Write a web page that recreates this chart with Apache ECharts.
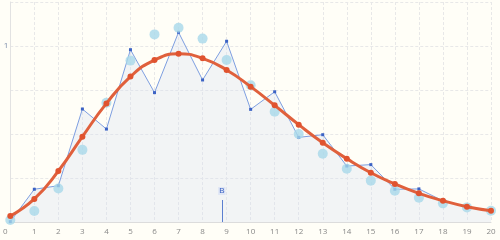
<!DOCTYPE html>
<html><head><meta charset="utf-8">
<script src="https://cdn.jsdelivr.net/npm/echarts@6/dist/echarts.min.js"></script>
<style>html,body{margin:0;padding:0;background:#fffef7;}#c{width:500px;height:240px;}</style>
</head><body><div id="c"></div>
<script>
const xValues = [0,1,2,3,4,5,6,7,8,9,10,11,12,13,14,15,16,17,18,19,20];
const observed = [0.002,0.186,0.206,0.642,0.528,0.979,0.735,1.078,0.807,1.027,0.640,0.740,0.481,0.496,0.318,0.326,0.186,0.188,0.12,0.088,0.064];
const expected = [0.011,0.063,0.19,0.41,0.678,0.917,1.066,1.104,1.042,0.92,0.777,0.627,0.5,0.388,0.303,0.235,0.178,0.138,0.106,0.083,0.064];
const fitted = [0.034,0.131,0.29,0.485,0.674,0.826,0.92,0.956,0.93,0.864,0.769,0.663,0.553,0.45,0.36,0.28,0.216,0.163,0.121,0.087,0.064];
const markX = 8.8;
const markTop = 0.125;
const markLabel = 'B';

const chart = echarts.init(document.getElementById('c'), null, {renderer:'canvas'});
const pair = arr => xValues.map((x,i)=>[x,arr[i]]);
chart.setOption({
  backgroundColor:'#fffef7',
  animation:false,
  grid:{left:8,right:9,top:2,bottom:18,containLabel:false},
  xAxis:{type:'value',min:0,max:20,interval:1,
    axisLine:{lineStyle:{color:'#dcdcdc'}},axisTick:{show:false},
    axisLabel:{fontSize:8,color:'#888',margin:6,fontFamily:'Open Sans',
      formatter:v=>v===0?'{a|0}':String(v),rich:{a:{fontSize:8,color:'#888',padding:[0,10,0,0]}}},
    splitLine:{show:true,lineStyle:{color:'#e8e8e8',type:[3,2]}}},
  yAxis:{type:'value',min:0,max:1.25,interval:0.25,
    axisLine:{show:true,lineStyle:{color:'#e2e2e2'}},axisTick:{show:false},
    axisLabel:{fontSize:8,color:'#7a8aa8',margin:2,formatter:v=>v===1?'1':'',fontFamily:'Open Sans'},
    splitLine:{show:true,lineStyle:{color:'#e8e8e8',type:[3,2]}}},
  series:[
    {type:'line',data:pair(observed),symbol:'rect',symbolSize:3,
      itemStyle:{color:'#3b62c4'},lineStyle:{color:'#7d9ee0',width:1},
      areaStyle:{color:'rgba(214,225,243,0.45)'},z:2,
      markLine:{symbol:'none',silent:true,
        lineStyle:{color:'#5b7fd0',width:1,type:'solid'},
        label:{show:true,position:'end',formatter:markLabel,fontSize:8,color:'#3b62c4',
          backgroundColor:'#dfe6f5',padding:[0,1]},
        data:[[{coord:[markX,0]},{coord:[markX,markTop]}]]}},
    {type:'scatter',data:pair(expected),symbolSize:10,
      itemStyle:{color:'#a7d8ea',opacity:0.8},z:3},
    {type:'line',data:pair(fitted),smooth:true,symbol:'circle',symbolSize:6,
      itemStyle:{color:'#e0532f'},lineStyle:{color:'#e0603c',width:3},z:4}
  ]
});
</script></body></html>
